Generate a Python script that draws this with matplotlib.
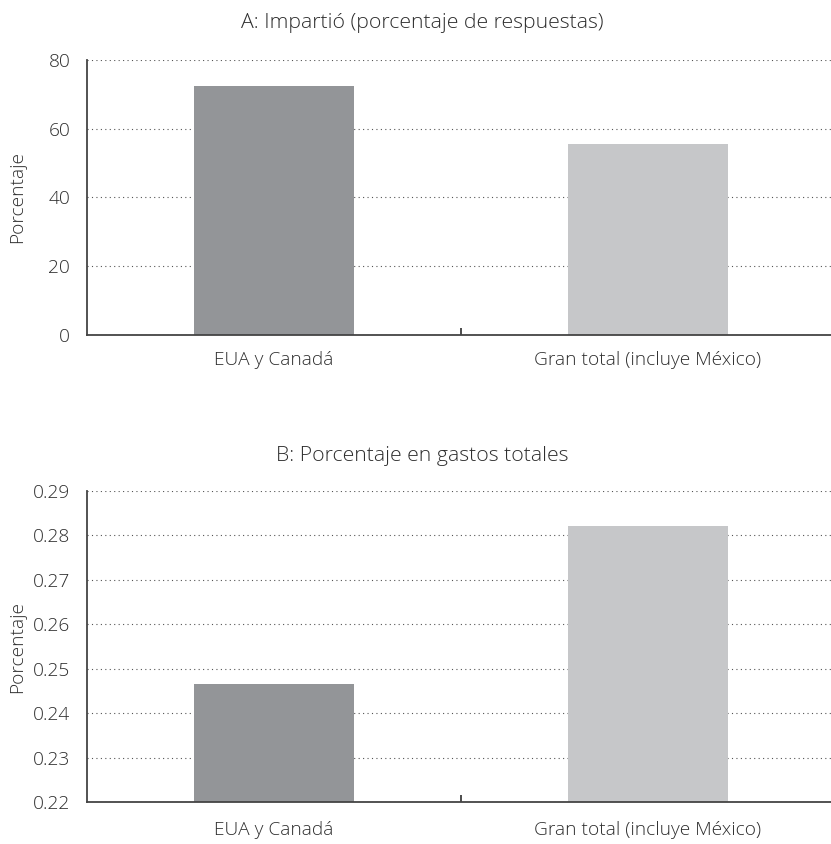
import matplotlib
matplotlib.use("Agg")
import matplotlib.pyplot as plt

plt.rcParams['font.family'] = ['Open Sans', 'DejaVu Sans']

categories = ["EUA y Canadá", "Gran total (incluye México)"]
impartio_pct = [72.4, 55.5]
gasto_pct = [0.2466, 0.2821]
bar_colors = ["#939598", "#c6c7c9"]

ticks_a = [0, 20, 40, 60, 80]
ticks_b = [0.22, 0.23, 0.24, 0.25, 0.26, 0.27, 0.28, 0.29]

text_color = "#2e2e2e"
fs = 13.8

fig = plt.figure(figsize=(8.31, 8.44), dpi=100)
ax_a = fig.add_axes([0.1047, 0.6031, 0.9, 0.3258])
ax_b = fig.add_axes([0.1047, 0.0494, 0.9, 0.3692])


def style(ax, values, yticks, ylim, fmt):
    x = list(range(len(categories)))
    ax.bar(x, [v - ylim[0] for v in values], bottom=ylim[0], width=0.43,
           color=bar_colors, zorder=3)
    ax.set_xlim(-0.5, 1.5)
    ax.set_ylim(*ylim)
    ax.set_yticks(yticks)
    ax.set_yticklabels([fmt(t) for t in yticks], fontweight=300)
    ax.set_xticks([0.5])
    ax.set_xticklabels([""])
    ax.tick_params(axis='x', direction='in', length=5, width=1.2, colors=text_color)
    ax.tick_params(axis='y', length=0, pad=12, labelsize=fs, labelcolor=text_color)
    for i, c in enumerate(categories):
        ax.text(i, -0.06, c, transform=ax.get_xaxis_transform(), ha='center',
                va='top', fontsize=fs, color=text_color, fontweight=300)
    ax.grid(axis='y', linestyle=(0, (1, 3)), color="#555555", linewidth=0.8, zorder=1)
    for s in ['top', 'right']:
        ax.spines[s].set_visible(False)
    for s in ['left', 'bottom']:
        ax.spines[s].set_color("#444444")
        ax.spines[s].set_linewidth(1.3)
        ax.spines[s].set_zorder(4)
    ax.set_ylabel("Porcentaje", fontsize=fs, color=text_color, fontweight=300)
    ax.yaxis.set_label_coords(-0.082, 0.5)


style(ax_a, impartio_pct, ticks_a, (0, 80), lambda t: f"{t:d}")
style(ax_b, gasto_pct, ticks_b, (0.22, 0.29), lambda t: f"{t:.2f}")

fig.text(0.508, 0.973, "A: Impartió (porcentaje de respuestas)", ha='center',
         va='center', fontsize=15.3, color=text_color, fontweight=300)
fig.text(0.508, 0.460, "B: Porcentaje en gastos totales", ha='center',
         va='center', fontsize=15.3, color=text_color, fontweight=300)

fig.savefig("out.png", dpi=100)
